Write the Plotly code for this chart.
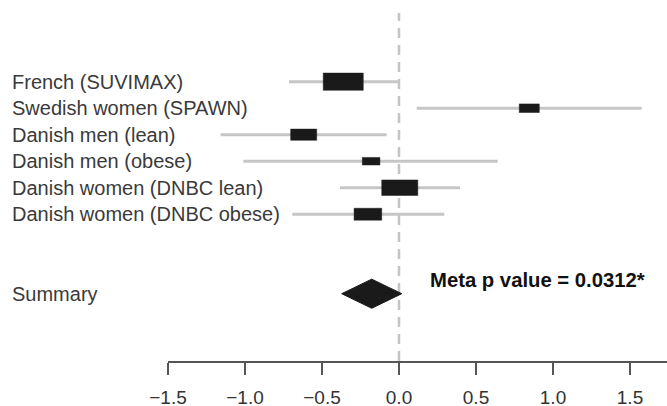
import plotly.graph_objects as go

studies = ["French (SUVIMAX)", "Swedish women (SPAWN)", "Danish men (lean)",
           "Danish men (obese)", "Danish women (DNBC lean)", "Danish women (DNBC obese)"]
effect = [-0.362, 0.846, -0.619, -0.181, 0.005, -0.202]
ci_low = [-0.714, 0.115, -1.158, -1.011, -0.383, -0.693]
ci_high = [0.0, 1.576, -0.080, 0.641, 0.396, 0.294]
rel_weight = [1.0, 0.5, 0.65, 0.44, 0.9, 0.69]

summary_label = "Summary"
summary_effect = -0.177
summary_low = -0.372
summary_high = 0.018
meta_text = "Meta p value = 0.0312*"

tick_vals = [-1.5, -1.0, -0.5, 0.0, 0.5, 1.0, 1.5]
tick_text = ["\u22121.5", "\u22121.0", "\u22120.5", "0.0", "0.5", "1.0", "1.5"]

W, H = 667, 406
ML, MR, MT, MB = 168, 0, 13, 45
px_per_x = 154.0
px_per_row = 26.5
plot_w = W - ML - MR
plot_h = H - MT - MB
x0 = -1.5
x1 = x0 + plot_w / px_per_x
ytop = (81.7 - MT) / px_per_row
ybot = ytop - plot_h / px_per_row

rows = [-i for i in range(len(studies))]
summary_row = -8

fig = go.Figure()

# CI lines
lx, ly = [], []
for lo, hi, r in zip(ci_low, ci_high, rows):
    lx += [lo, hi, None]
    ly += [r, r, None]
fig.add_trace(go.Scatter(x=lx, y=ly, mode="lines",
                         line=dict(color="#c6c6c6", width=3), hoverinfo="skip"))

# boxes (polygons built from effect and weight)
bx, by = [], []
for e, w, r in zip(effect, rel_weight, rows):
    hw = w * 0.26 / 2
    hh = w * 0.65 / 2
    bx += [e - hw, e + hw, e + hw, e - hw, e - hw, None]
    by += [r - hh, r - hh, r + hh, r + hh, r - hh, None]
fig.add_trace(go.Scatter(x=bx, y=by, mode="lines", fill="toself", fillcolor="#1a1a1a",
                         line=dict(color="#1a1a1a", width=0.5), hoverinfo="skip"))

# summary diamond
dh = 0.55
fig.add_trace(go.Scatter(x=[summary_low, summary_effect, summary_high, summary_effect, summary_low],
                         y=[summary_row, summary_row + dh, summary_row, summary_row - dh, summary_row],
                         mode="lines", fill="toself", fillcolor="#1a1a1a",
                         line=dict(color="#1a1a1a", width=1), hoverinfo="skip"))

# zero line
fig.add_shape(type="line", xref="x", yref="paper", x0=0, x1=0, y0=0, y1=1,
              line=dict(color="#c4c4c4", width=2.5, dash="10px,7px"), layer="below")

label_x = (9.5 - ML) / plot_w
for name, r in zip(studies + [summary_label], rows + [summary_row]):
    fig.add_annotation(x=label_x, xref="paper", y=r, yref="y", text=name,
                       showarrow=False, xanchor="left", yanchor="middle",
                       font=dict(family="Liberation Sans, Arial", size=20, color="#3a3a3a"))

fig.add_annotation(x=0.19, xref="x", y=-7.5, yref="y", text="<b>" + meta_text + "</b>",
                   showarrow=False, xanchor="left", yanchor="middle",
                   font=dict(family="Liberation Sans, Arial", size=20.3, color="#111111"))

fig.update_layout(
    width=W, height=H, margin=dict(l=ML, r=MR, t=MT, b=MB, autoexpand=False),
    plot_bgcolor="white", paper_bgcolor="white", showlegend=False,
    xaxis=dict(range=[x0, x1], tickvals=tick_vals, ticktext=tick_text,
               showgrid=False, zeroline=False, showline=True, linecolor="#555555",
               linewidth=1.5, ticks="outside", ticklen=12, tickwidth=1.5, tickcolor="#555555",
               ticklabelstandoff=6, automargin=False,
               tickfont=dict(family="Liberation Sans, Arial", size=19, color="#333333"),
               fixedrange=True),
    yaxis=dict(range=[ybot, ytop], visible=False, fixedrange=True, automargin=False),
)

fig.write_html("out.html", config={"displayModeBar": False},
               post_script="document.body.style.margin='0';document.body.style.overflow='hidden';")
